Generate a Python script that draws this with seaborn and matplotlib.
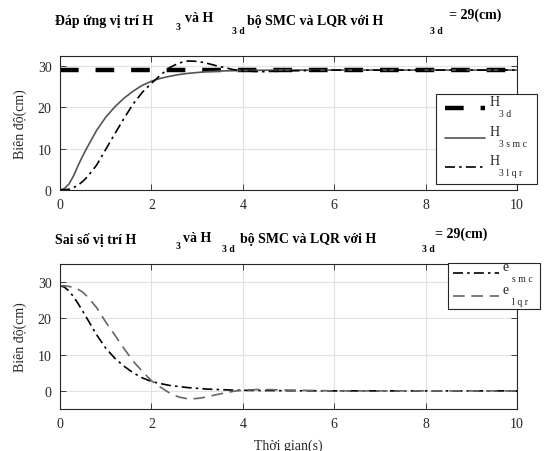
import numpy as np
import pandas as pd
import matplotlib
matplotlib.use("Agg")
import matplotlib.pyplot as plt
import seaborn as sns

# thoi gian (s)
t = [0, 0.1, 0.2, 0.3, 0.4, 0.5, 0.6, 0.8, 1.0, 1.2, 1.4, 1.6, 1.8, 2.0, 2.2, 2.4,
     2.6, 2.8, 3.0, 3.2, 3.4, 3.6, 3.8, 4.0, 4.4, 5.0, 6.0, 8.0, 10.0]

# dap ung vi tri H3
h3d = [29] * len(t)
h3_smc = [0, 0.4, 1.5, 3.5, 6.0, 8.3, 10.4, 14.4, 17.6, 20.1, 22.2, 23.9, 25.3, 26.3, 27.0, 27.5,
          27.9, 28.2, 28.4, 28.6, 28.7, 28.8, 28.85, 28.9, 28.95, 29.0, 29.0, 29.0, 29.0]
h3_lqr = [0, 0.05, 0.2, 0.6, 1.2, 2.1, 3.2, 6.0, 9.8, 13.6, 17.3, 20.8, 23.6, 25.8, 27.8, 29.6,
          30.7, 31.2, 31.1, 30.7, 30.1, 29.6, 29.1, 28.8, 28.6, 28.8, 29.0, 29.0, 29.0]

# sai so vi tri
e_smc = [29, 28.6, 27.5, 25.9, 24.0, 21.9, 19.8, 15.5, 11.8, 9.0, 6.8, 5.0, 3.6, 2.6, 2.0, 1.5,
         1.2, 0.9, 0.7, 0.5, 0.4, 0.3, 0.2, 0.15, 0.1, 0.05, 0.0, 0.0, 0.0]
e_lqr = [29, 29.0, 28.8, 28.5, 28.0, 27.2, 26.0, 23.0, 19.0, 15.4, 11.7, 8.2, 5.4, 2.8, 1.0, -0.6,
         -1.7, -2.2, -2.1, -1.7, -1.1, -0.6, -0.1, 0.2, 0.4, 0.2, 0.0, 0.0, 0.0]

xticks = [0, 2, 4, 6, 8, 10]

# chu thich: (ky hieu chinh, chi so duoi)
leg_top = [('H', '3 d'), ('H', '3 s m c'), ('H', '3 l q r')]
leg_bot = [('e', 's m c'), ('e', 'l q r')]

sns.set_theme(style="whitegrid")
plt.rcParams['font.family'] = ['Liberation Serif', 'DejaVu Serif']

W, H = 545, 452
fig = plt.figure(figsize=(W / 100, H / 100), dpi=100)
fig.patch.set_facecolor('white')


def px(x, y):
    return x / W, 1 - y / H


ax1 = fig.add_axes([60 / W, 1 - 191 / H, 457 / W, 134 / H])
ax2 = fig.add_axes([60 / W, 1 - 410 / H, 457 / W, 145 / H])

df = pd.DataFrame({'t': t, 'h3d': h3d, 'smc': h3_smc, 'lqr': h3_lqr,
                   'esmc': e_smc, 'elqr': e_lqr})

dashdot = (0, (6, 2.5, 1.5, 2.5))

sns.lineplot(data=df, x='t', y='h3d', ax=ax1, color='black', linewidth=3.2, label='h3d')
ax1.lines[-1].set_dashes((4.2, 3.8))
sns.lineplot(data=df, x='t', y='smc', ax=ax1, color='#555555', linewidth=1.2, label='smc')
sns.lineplot(data=df, x='t', y='lqr', ax=ax1, color='black', linewidth=1.2, label='lqr')
ax1.lines[-1].set_linestyle(dashdot)

sns.lineplot(data=df, x='t', y='esmc', ax=ax2, color='black', linewidth=1.2, label='esmc')
ax2.lines[-1].set_linestyle(dashdot)
sns.lineplot(data=df, x='t', y='elqr', ax=ax2, color='#666666', linewidth=1.2, label='elqr')
ax2.lines[-1].set_linestyle((0, (7, 4)))

for ax in (ax1, ax2):
    ax.set_facecolor('white')
    ax.set_xlim(0, 10)
    ax.set_xticks(xticks)
    ax.set_yticks([0, 10, 20, 30])
    ax.grid(True, color='#e2e2e2', linewidth=0.8)
    for s in ax.spines.values():
        s.set_visible(True)
        s.set_color('#262626')
        s.set_linewidth(0.8)
    ax.tick_params(direction='in', length=4, width=0.6, color='#262626',
                   top=True, right=True, bottom=True, left=True,
                   labelsize=10, labelcolor='#262626', pad=6)
    ax.set_xlabel('')
    ax.set_ylabel('Biên độ(cm)', fontsize=10, color='#262626', labelpad=8)

ax1.set_ylim(0, 32.4)
ax2.set_ylim(-5, 35)
ax2.set_xlabel('Thời gian(s)', fontsize=10, color='#262626', labelpad=6)


def make_legend(ax, x0, x1, y0, spacing, bpad, hlen):
    handles = ax.get_legend_handles_labels()[0]
    leg = ax.legend(handles, [' ' * 4] * len(handles), loc='upper left',
                    bbox_to_anchor=(x0 / W, 1 - y0 / H, (x1 - x0) / W, 0.0001),
                    mode='expand', bbox_transform=fig.transFigure, fontsize=10,
                    frameon=True, fancybox=False, edgecolor='#262626', framealpha=1,
                    handlelength=hlen, labelspacing=spacing, borderpad=bpad,
                    handletextpad=0.2, borderaxespad=0)
    leg.get_frame().set_linewidth(0.8)
    return leg


leg1 = make_legend(ax1, 436, 537, 95, 1.2, 0.65, 2.9)
leg2 = make_legend(ax2, 448, 540, 264, 0.75, 0.35, 3.3)

# dat ky hieu va chi so sau khi legend da duoc bo tri
fig.canvas.draw()
inv = fig.transFigure.inverted()
for leg, items in ((leg1, leg_top), (leg2, leg_bot)):
    for txt, (main, sub) in zip(leg.get_texts(), items):
        bb = txt.get_window_extent()
        xm, ym = inv.transform((bb.x0 + 1, (bb.y0 + bb.y1) / 2))
        fig.text(xm, ym + 8 / H, main, fontsize=10, color='#262626',
                 ha='left', va='center', zorder=10)
        fig.text(xm + 10 / W, ym - 4 / H, sub, fontsize=7, color='#262626',
                 ha='left', va='center', zorder=10)


def title_parts(y0, first, xs):
    big = dict(fontsize=10, fontweight='bold', color='black', va='center', ha='left')
    small = dict(fontsize=7, fontweight='bold', color='black', va='center', ha='left')
    fig.text(*px(55, y0), first, **big)
    fig.text(*px(xs[0], y0 + 7), '3', **small)
    fig.text(*px(xs[1], y0 - 2), 'và H', **big)
    fig.text(*px(xs[2], y0 + 10), '3 d', **small)
    fig.text(*px(xs[3], y0), 'bộ SMC và LQR với H', **big)
    fig.text(*px(xs[4], y0 + 10), '3 d', **small)
    fig.text(*px(xs[5], y0 - 6), '= 29(cm)', **big)


title_parts(21, 'Đáp ứng vị trí H', [176, 185, 232, 247, 430, 449])
title_parts(240, 'Sai số vị trí H', [176, 183, 222, 240, 422, 435])

fig.savefig('out.png', dpi=100, facecolor='white')
